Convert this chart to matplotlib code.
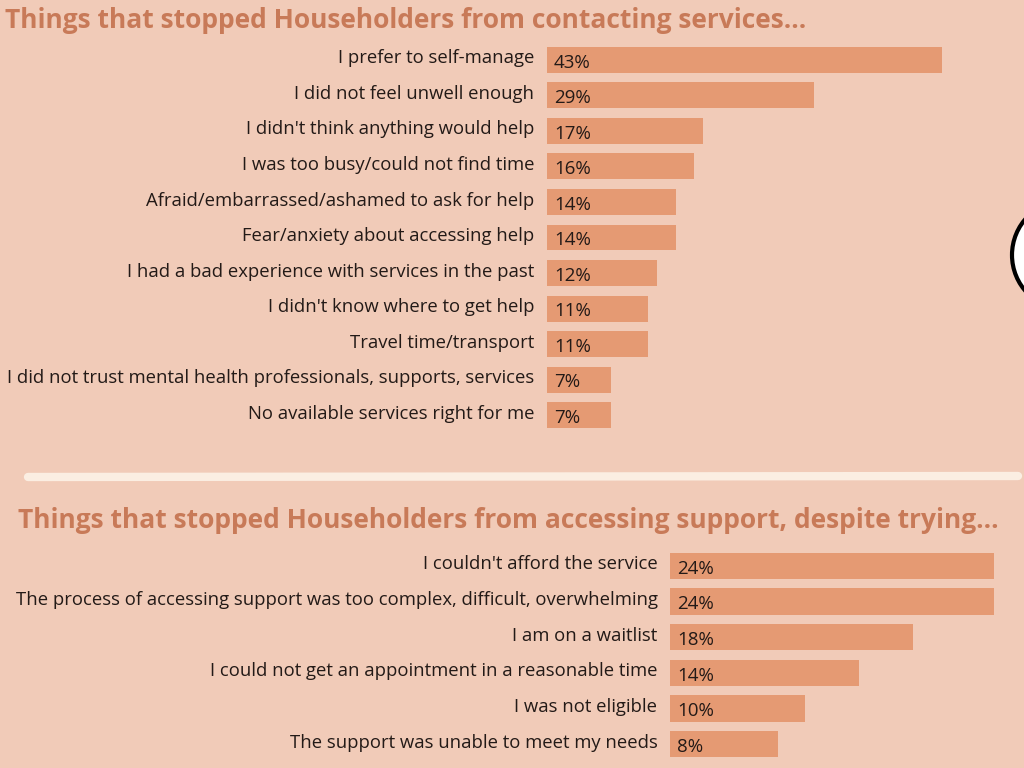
import matplotlib.pyplot as plt
from matplotlib.patches import Ellipse
from matplotlib.lines import Line2D

top_labels = ["I prefer to self-manage", "I did not feel unwell enough",
              "I didn't think anything would help", "I was too busy/could not find time",
              "Afraid/embarrassed/ashamed to ask for help", "Fear/anxiety about accessing help",
              "I had a bad experience with services in the past", "I didn't know where to get help",
              "Travel time/transport",
              "I did not trust mental health professionals, supports, services",
              "No available services right for me"]
top_vals = [43, 29, 17, 16, 14, 14, 12, 11, 11, 7, 7]

bot_labels = ["I couldn't afford the service",
              "The process of accessing support was too complex, difficult, overwhelming",
              "I am on a waitlist", "I could not get an appointment in a reasonable time",
              "I was not eligible", "The support was unable to meet my needs"]
bot_vals = [24, 24, 18, 14, 10, 8]

bg = "#F1CBB8"
bar_c = "#E59A73"
title_c = "#C87A58"
txt_c = "#231a17"

W, H = 1024, 768
fig = plt.figure(figsize=(10.24, 7.68), dpi=100, facecolor=bg)
plt.rcParams['font.family'] = ['Open Sans', 'DejaVu Sans']


def px_axes(x0, y0, x1, y1):
    return fig.add_axes([x0 / W, 1 - y1 / H, (x1 - x0) / W, (y1 - y0) / H])


def draw(ax, labels, vals, scale, left):
    n = len(vals)
    ax.set_facecolor("none")
    ax.barh(range(n), vals, height=0.73, color=bar_c)
    ax.set_xlim(0, (W - left) / scale)
    ax.set_ylim(n - 0.5, -0.5)
    ax.axis("off")
    for i, (lab, v) in enumerate(zip(labels, vals)):
        ax.annotate(lab, (0, i), xytext=(-9, 1), textcoords="offset points",
                    ha="right", va="center", fontsize=13.3, color=txt_c)
        ax.annotate(f"{v}%", (0, i), xytext=(5, -2), textcoords="offset points",
                    ha="left", va="center", fontsize=13.5, color=txt_c)


ax1 = px_axes(547, 42, W, 433)
draw(ax1, top_labels, top_vals, 9.19, 547)
ax2 = px_axes(670, 548, W, 762)
draw(ax2, bot_labels, bot_vals, 13.5, 670)

fig.text(5 / W, 1 - 20 / H, "Things that stopped Householders from contacting services...",
         fontsize=19, fontweight="bold", color=title_c, va="center", ha="left")
fig.text(18 / W, 1 - 520 / H, "Things that stopped Householders from accessing support, despite trying...",
         fontsize=19, fontweight="bold", color=title_c, va="center", ha="left")

# brush-like divider
fig.add_artist(Line2D([28 / W, 1018 / W], [1 - 477 / H, 1 - 476 / H], color="#FBEEE2",
                      lw=6, solid_capstyle="round", transform=fig.transFigure))

# partial circle at the right edge
fig.add_artist(Ellipse((1067 / W, 1 - 255 / H), 110 / W, 110 / H, transform=fig.transFigure,
                       facecolor="white", edgecolor="black", lw=3))

fig.savefig("out.png", dpi=100, facecolor=bg)
